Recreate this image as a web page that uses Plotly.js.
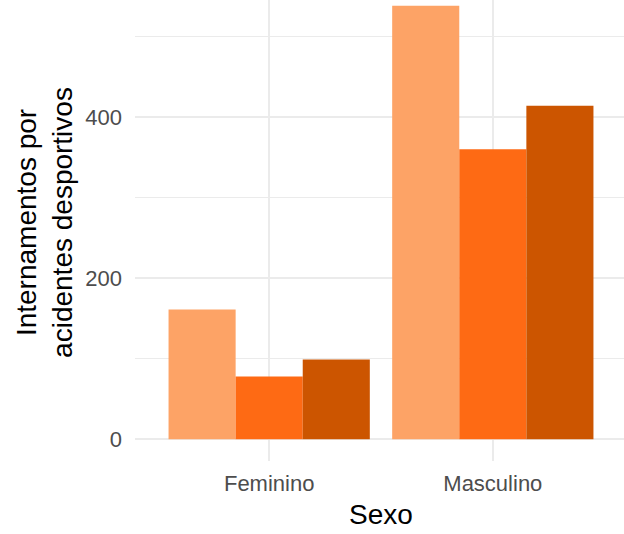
<!DOCTYPE html>
<html>
<head>
<meta charset="utf-8">
<script src="https://cdn.plot.ly/plotly-3.0.1.min.js"></script>
<style>
html, body { margin: 0; padding: 0; overflow: hidden; background: #fff; width: 624px; height: 534px; }
#chart { position: absolute; left: 0; top: -16px; width: 627px; height: 550px; }
</style>
</head>
<body>
<div id="chart"></div>
<script>
const categories = ['Feminino', 'Masculino'];
const seriesNames = ['Grupo 1', 'Grupo 2', 'Grupo 3'];
const serie1 = [161, 538];
const serie2 = [78, 360];
const serie3 = [99, 414];
const seriesColors = ['#FDA366', '#FE6A14', '#CC5500'];

const allSeries = [serie1, serie2, serie3];
const traces = allSeries.map((vals, i) => ({
  type: 'bar',
  name: seriesNames[i],
  x: categories,
  y: vals,
  marker: { color: seriesColors[i], line: { width: 0 } },
  hoverinfo: 'x+y+name'
}));

const maxVal = Math.max(...serie1, ...serie2, ...serie3);
const pad = 0.05 * maxVal;

const layout = {
  width: 627,
  height: 550,
  margin: { l: 135, r: 0, t: 0, b: 73, pad: 0 },
  barmode: 'group',
  bargap: 0.1,
  bargroupgap: 0,
  showlegend: false,
  paper_bgcolor: '#ffffff',
  plot_bgcolor: '#ffffff',
  font: { family: '"Liberation Sans", Arial, sans-serif', color: '#000000' },
  xaxis: {
    type: 'category',
    range: [-0.6, 1.6],
    showgrid: true,
    gridcolor: '#EBEBEB',
    gridwidth: 2,
    zeroline: false,
    showline: false,
    ticks: '',
    ticklabelstandoff: 7,
    tickfont: { size: 22, color: '#4D4D4D' },
    title: { text: 'Sexo', font: { size: 28, color: '#000000' }, standoff: 9 },
    automargin: false,
    fixedrange: true
  },
  yaxis: {
    range: [-pad, maxVal + pad],
    dtick: 200,
    tick0: 0,
    showgrid: true,
    gridcolor: '#EBEBEB',
    gridwidth: 2,
    minor: { dtick: 100, showgrid: true, gridcolor: '#EBEBEB', gridwidth: 1.2, ticks: '' },
    zeroline: false,
    showline: false,
    ticks: '',
    ticklabelstandoff: 12,
    tickfont: { size: 22, color: '#4D4D4D' },
    title: { text: 'Internamentos por<br>acidentes desportivos', font: { size: 28, color: '#000000' }, standoff: 4 },
    automargin: false,
    fixedrange: true
  }
};

Plotly.newPlot('chart', traces, layout, { displayModeBar: false, staticPlot: true });
</script>
</body>
</html>
